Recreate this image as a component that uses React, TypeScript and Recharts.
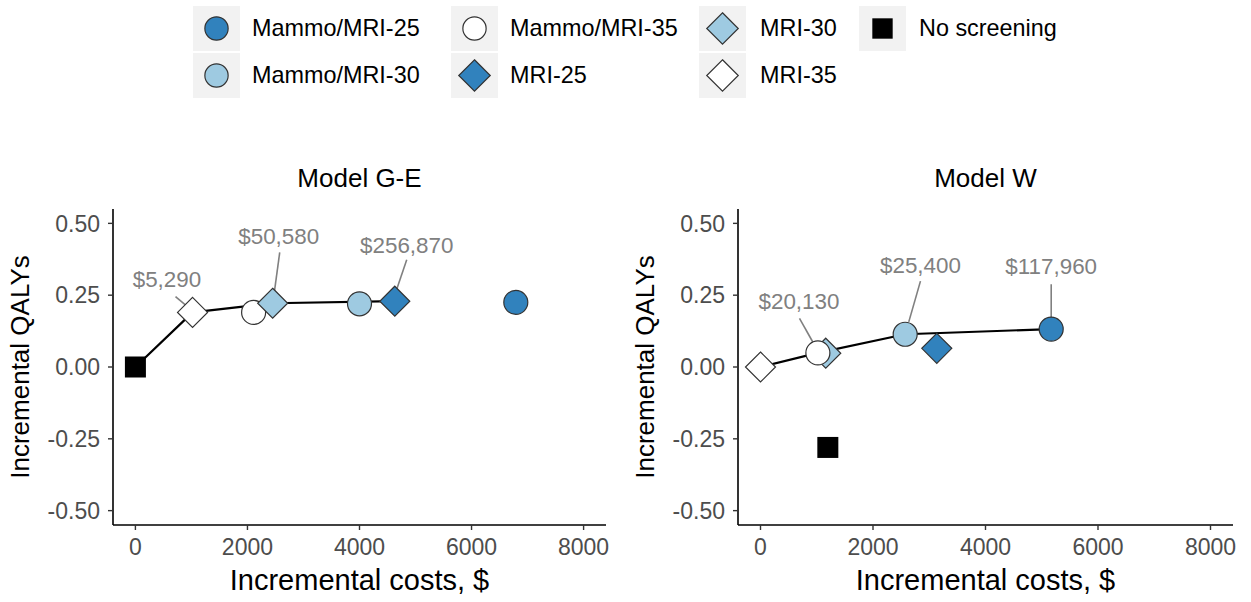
import React from 'react';
import { ScatterChart, Scatter, XAxis, YAxis, ReferenceLine } from 'recharts';

// ---------- shared definitions ----------
const strategies = ['Mammo/MRI-25', 'Mammo/MRI-30', 'Mammo/MRI-35', 'MRI-25', 'MRI-30', 'MRI-35', 'No screening'];
const strategyFills = ['#3182bd', '#9ecae1', '#ffffff', '#3182bd', '#9ecae1', '#ffffff', '#000000'];
const strategyShapes = ['circle', 'circle', 'circle', 'diamond', 'diamond', 'diamond', 'square'];

const xTicks = [0, 2000, 4000, 6000, 8000];
const yTicks = [-0.5, -0.25, 0, 0.25, 0.5];
const xDomain = [-400, 8400];
const yDomain = [-0.55, 0.55];

// ---------- Model G-E ----------
const geStrategy = ['No screening', 'MRI-35', 'Mammo/MRI-35', 'MRI-30', 'Mammo/MRI-30', 'MRI-25', 'Mammo/MRI-25'];
const geCost = [0, 1020, 2110, 2450, 4000, 4630, 6790];
const geQaly = [0, 0.19, 0.19, 0.222, 0.22, 0.229, 0.225];
const geFrontier = ['No screening', 'MRI-35', 'MRI-30', 'MRI-25'];
const geIcerText = ['$5,290', '$50,580', '$256,870'];
const geIcerCost = [563, 2558, 4843];
const geIcerQaly = [0.306, 0.454, 0.423];
const geLeadFromCost = [716, 2576, 4843];
const geLeadFromQaly = [0.245, 0.399, 0.373];
const geLeadToCost = [918, 2469, 4663];
const geLeadToQaly = [0.212, 0.245, 0.27];

// ---------- Model W ----------
const wStrategy = ['MRI-35', 'MRI-30', 'Mammo/MRI-35', 'Mammo/MRI-30', 'MRI-25', 'Mammo/MRI-25', 'No screening'];
const wCost = [0, 1160, 1020, 2572, 3134, 5168, 1197];
const wQaly = [0, 0.048, 0.049, 0.114, 0.065, 0.132, -0.28];
const wFrontier = ['MRI-35', 'Mammo/MRI-35', 'Mammo/MRI-30', 'Mammo/MRI-25'];
const wIcerText = ['$20,130', '$25,400', '$117,960'];
const wIcerCost = [684, 2844, 5168];
const wIcerQaly = [0.229, 0.355, 0.35];
const wLeadFromCost = [693, 2844, 5168];
const wLeadFromQaly = [0.169, 0.299, 0.288];
const wLeadToCost = [930, 2636, 5168];
const wLeadToQaly = [0.087, 0.157, 0.174];

const FONT = '"Liberation Sans", Arial, Helvetica, sans-serif';

function Marker({ kind, fill, cx, cy, scale = 1 }: any) {
  if (kind === 'circle') {
    return <circle cx={cx} cy={cy} r={12 * scale} fill={fill} stroke="#333333" strokeWidth={1.2} />;
  }
  if (kind === 'diamond') {
    const h = 15 * scale;
    return (
      <polygon
        points={`${cx},${cy - h} ${cx + h},${cy} ${cx},${cy + h} ${cx - h},${cy}`}
        fill={fill}
        stroke="#333333"
        strokeWidth={1.2}
      />
    );
  }
  const s = 10.5 * scale;
  return <rect x={cx - s} y={cy - s} width={2 * s} height={2 * s} fill={fill} />;
}

const PointShape = (props: any) => {
  const { cx, cy, payload } = props;
  const i = strategies.indexOf(payload.strategy);
  return <Marker kind={strategyShapes[i]} fill={strategyFills[i]} cx={cx} cy={cy} />;
};

const EmptyShape = () => <g />;

const LabelShape = (props: any) => {
  const { cx, cy, payload } = props;
  return (
    <text x={cx} y={cy} dy="0.35em" textAnchor="middle" fontSize={22.4} fill="#808080" fontFamily={FONT}>
      {payload.text}
    </text>
  );
};

function Panel({ strat, cost, qaly, frontier, icerText, icerCost, icerQaly, fromC, fromQ, toC, toQ, left, width, marginRight }: any) {
  const points = strat.map((s: string, i: number) => ({ x: cost[i], y: qaly[i], strategy: s }));
  const line = frontier.map((s: string) => points.find((p: any) => p.strategy === s));
  const labels = icerText.map((t: string, i: number) => ({ x: icerCost[i], y: icerQaly[i], text: t }));
  const tickStyle = { fontSize: 23, fill: '#4d4d4d', fontFamily: FONT };
  return (
    <div style={{ position: 'absolute', left, top: 0, width, height: 602 }}>
      <ScatterChart width={width} height={602} margin={{ top: 209, right: marginRight, bottom: 37, left: 53 }}>
        <XAxis
          type="number"
          dataKey="x"
          domain={xDomain}
          ticks={xTicks}
          allowDataOverflow
          height={40}
          tick={tickStyle}
          tickSize={5}
          tickMargin={9}
          axisLine={{ stroke: '#000', strokeWidth: 1.6 }}
          tickLine={{ stroke: '#333', strokeWidth: 1.4 }}
        />
        <YAxis
          type="number"
          dataKey="y"
          domain={yDomain}
          ticks={yTicks}
          allowDataOverflow
          width={60}
          tick={tickStyle}
          tickSize={5}
          tickMargin={8}
          tickFormatter={(v: number) => v.toFixed(2)}
          axisLine={{ stroke: '#000', strokeWidth: 1.6 }}
          tickLine={{ stroke: '#333', strokeWidth: 1.4 }}
        />
        {fromC.map((c: number, i: number) => (
          <ReferenceLine
            key={i}
            segment={[{ x: c, y: fromQ[i] }, { x: toC[i], y: toQ[i] }]}
            stroke="#808080"
            strokeWidth={1.6}
          />
        ))}
        <Scatter data={line} line={{ stroke: '#000', strokeWidth: 2.2 }} shape={EmptyShape} isAnimationActive={false} />
        <Scatter data={labels} shape={LabelShape} isAnimationActive={false} />
        <Scatter data={points} shape={PointShape} isAnimationActive={false} />
      </ScatterChart>
    </div>
  );
}

const legendCols = [
  { bg: 193, text: 252, items: [0, 1] },
  { bg: 451, text: 510, items: [2, 3] },
  { bg: 699, text: 760, items: [4, 5] },
  { bg: 859, text: 919, items: [6] },
];
const rowTops = [6, 53];

function Legend() {
  return (
    <>
      {legendCols.map((col, ci) =>
        col.items.map((si, ri) => (
          <React.Fragment key={`${ci}-${ri}`}>
            <svg
              width={47}
              height={45}
              style={{ position: 'absolute', left: col.bg, top: rowTops[ri] }}
            >
              <rect x={0} y={0} width={47} height={45} fill="#f2f2f2" />
              <Marker kind={strategyShapes[si]} fill={strategyFills[si]} cx={23.5} cy={22.5} scale={strategyShapes[si] === 'diamond' ? 1.05 : 0.97} />
            </svg>
            <div
              style={{
                position: 'absolute',
                left: col.text,
                top: rowTops[ri],
                height: 45,
                lineHeight: '45px',
                fontSize: 23.4,
                fontFamily: FONT,
                color: '#000',
                whiteSpace: 'nowrap',
              }}
            >
              {strategies[si]}
            </div>
          </React.Fragment>
        ))
      )}
    </>
  );
}

export default function App() {
  return (
    <div style={{ position: 'absolute', left: 0, top: 0, width: 1251, height: 602, background: '#fff', overflow: 'hidden' }}>
      <Legend />
      <Panel
        strat={geStrategy} cost={geCost} qaly={geQaly} frontier={geFrontier}
        icerText={geIcerText} icerCost={geIcerCost} icerQaly={geIcerQaly}
        fromC={geLeadFromCost} fromQ={geLeadFromQaly} toC={geLeadToCost} toQ={geLeadToQaly}
        left={0} width={625} marginRight={19}
      />
      <Panel
        strat={wStrategy} cost={wCost} qaly={wQaly} frontier={wFrontier}
        icerText={wIcerText} icerCost={wIcerCost} icerQaly={wIcerQaly}
        fromC={wLeadFromCost} fromQ={wLeadFromQaly} toC={wLeadToCost} toQ={wLeadToQaly}
        left={625} width={626} marginRight={18}
      />
      <svg width={1251} height={602} style={{ position: 'absolute', left: 0, top: 0, pointerEvents: 'none' }}>
        <g fontFamily={FONT} fill="#000">
          <text x={359.5} y={187} textAnchor="middle" fontSize={26}>Model G-E</text>
          <text x={985.5} y={187} textAnchor="middle" fontSize={26}>Model W</text>
          <text x={359.5} y={590} textAnchor="middle" fontSize={29}>Incremental costs, $</text>
          <text x={985.5} y={590} textAnchor="middle" fontSize={29}>Incremental costs, $</text>
          <text x={29} y={367} textAnchor="middle" fontSize={26} transform="rotate(-90 29 367)">Incremental QALYs</text>
          <text x={654} y={367} textAnchor="middle" fontSize={26} transform="rotate(-90 654 367)">Incremental QALYs</text>
        </g>
      </svg>
    </div>
  );
}
